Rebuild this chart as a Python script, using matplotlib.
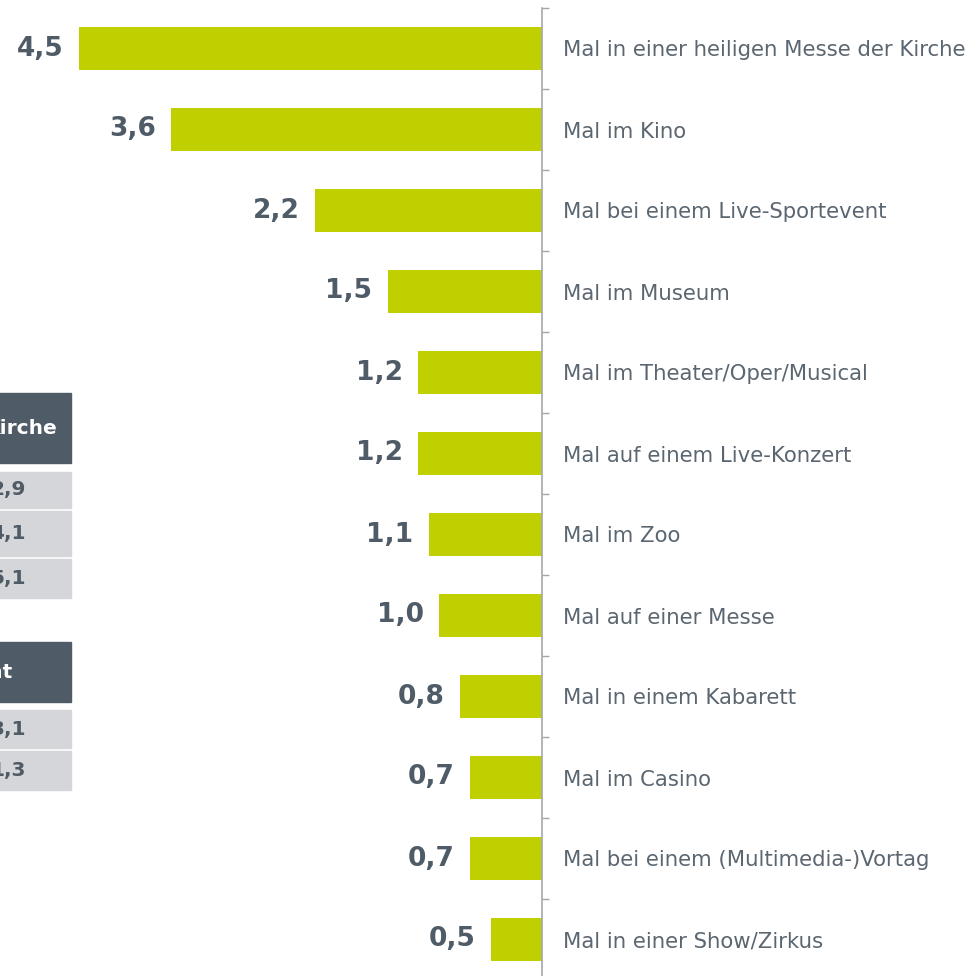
import matplotlib.pyplot as plt
from matplotlib.patches import Rectangle

# data
categories = ["Mal in einer heiligen Messe der Kirche", "Mal im Kino", "Mal bei einem Live-Sportevent",
              "Mal im Museum", "Mal im Theater/Oper/Musical", "Mal auf einem Live-Konzert", "Mal im Zoo",
              "Mal auf einer Messe", "Mal in einem Kabarett", "Mal im Casino",
              "Mal bei einem (Multimedia-)Vortag", "Mal in einer Show/Zirkus"]
values = [4.5, 3.6, 2.2, 1.5, 1.2, 1.2, 1.1, 1.0, 0.8, 0.7, 0.7, 0.5]

table1_title = "Kirche"
table1_values = ["2,9", "4,1", "5,1"]
table2_title = "Sportevent"
table2_values = ["3,1", "1,3"]

BAR = "#bfcf00"
DARK = "#4f5b66"
LABEL = "#5b6670"
SPINE = "#a3a7ac"
ROW = "#d5d6da"

W, H = 972, 976
fig = plt.figure(figsize=(W / 100, H / 100), dpi=100)

# main axes: spine at x=542px, categories 81px apart starting at y=8px
ax = fig.add_axes([0, 1 - 980 / H, 542 / W, 972 / H])
y = list(range(len(values)))
ax.barh(y, [-v for v in values], height=0.52, color=BAR)
ax.set_xlim(-542 / 103, 0)
ax.set_ylim(len(values) - 0.5, -0.5)

for i, v in enumerate(values):
    ax.annotate(f"{v:.1f}".replace(".", ","), (-v, i), xytext=(-11, 0), textcoords="offset points",
                ha="right", va="center", fontsize=19, fontweight="bold", color=DARK)

for s in ["left", "top", "bottom"]:
    ax.spines[s].set_visible(False)
ax.spines["right"].set_color(SPINE)
ax.spines["right"].set_linewidth(1.2)
ax.set_xticks([])
ax.yaxis.tick_right()
ax.set_yticks(y)
ax.set_yticklabels(categories, fontsize=15.3, color=LABEL, va="center_baseline")
ax.tick_params(axis="y", which="major", length=0, pad=15)
ax.set_yticks([i - 0.5 for i in range(len(values) + 1)], minor=True)
ax.tick_params(axis="y", which="minor", length=5, width=1, color=SPINE, direction="out")

# clipped tables on the left (pixel coords)
ov = fig.add_axes([0, 0, 1, 1])
ov.set_xlim(0, W)
ov.set_ylim(H, 0)
ov.axis("off")
ov.patch.set_alpha(0)

def table(title, title_right, top, hdr_h, rows, vals):
    ov.add_patch(Rectangle((-200, top), 271, hdr_h, color=DARK))
    ov.text(title_right, top + hdr_h / 2, title, ha="right", va="center", fontsize=14.5,
            fontweight="bold", color="white")
    for (y0, y1), v in zip(rows, vals):
        ov.add_patch(Rectangle((-200, y0), 271, y1 - y0, color=ROW))
        ov.text(26, (y0 + y1) / 2, v, ha="right", va="center", fontsize=14.5,
                fontweight="bold", color=DARK)

table(table1_title, 57, 393, 70, [(472, 508), (511, 556), (559, 598)], table1_values)
table(table2_title, 13, 642, 60, [(710, 748), (751, 790)], table2_values)

fig.savefig("out.png", dpi=100)
